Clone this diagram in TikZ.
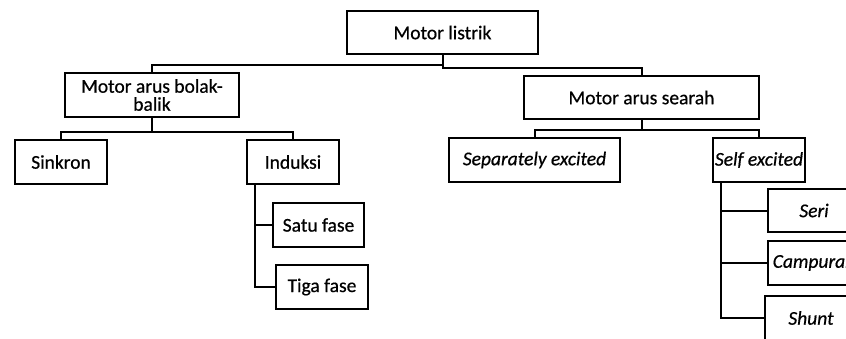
\documentclass[tikz,border=0pt]{standalone}
\usepackage{fontspec}
\setmainfont{Carlito}[FakeBold=0.6]
\begin{document}
\begin{tikzpicture}[x=1bp,y=-1bp,
  every node/.style={font=\fontsize{19.5bp}{18bp}\selectfont},
  box/.style={draw, line width=2bp, inner sep=0pt, align=center},
  link/.style={line width=2bp}]
\useasboundingbox (0,0) rectangle (846,338);
\clip (0,0) rectangle (846,338);

% root
\node[box, minimum width=191bp, minimum height=43bp] (top) at (442.5,32.5) {Motor listrik};

% second level
\node[box, minimum width=174bp, minimum height=44bp] (ac) at (152,95) {Motor arus bolak-\\balik};
\node[box, minimum width=235bp, minimum height=43bp] (dc) at (641.5,97.5) {Motor arus searah};

% AC branch
\node[box, minimum width=92bp, minimum height=44bp] (sinkron) at (61,162) {Sinkron};
\node[box, minimum width=92bp, minimum height=44bp] (induksi) at (293,162) {Induksi};
\node[box, minimum width=91bp, minimum height=44bp] (satu) at (318.5,225) {Satu fase};
\node[box, minimum width=92bp, minimum height=44bp] (tiga) at (322,287) {Tiga fase};

% DC branch
\node[box, minimum width=171bp, minimum height=44bp] (sep) at (534.5,160) {\textit{Separately excited}};
\node[box, minimum width=92bp, minimum height=44bp] (self) at (759,160) {\textit{Self excited}};
\node[box, minimum width=92bp, minimum height=43bp] (seri) at (814,210.5) {\textit{Seri}};
\node[box, minimum width=92bp, minimum height=44bp] (campuran) at (814,263) {\textit{Campuran}};
\node[box, minimum width=92bp, minimum height=44bp] (shunt) at (811,318) {\textit{Shunt}};

% connectors
\draw[link] (top.south) -- ++(0,13) -| (dc.north);
\draw[link] (top.south) -- ++(0,10) -| (ac.north);

\draw[link] (ac.south) -- ++(0,14) -| (sinkron.north);
\draw[link] (ac.south) -- ++(0,14) -| (induksi.north);
\draw[link] ([xshift=9bp]induksi.south west) |- (satu.west);
\draw[link] ([xshift=9bp]induksi.south west) |- (tiga.west);

\draw[link] (dc.south) -- ++(0,10) -| (sep.north);
\draw[link] (dc.south) -- ++(0,10) -| (self.north);
\draw[link] ([xshift=9bp]self.south west) |- (seri.west);
\draw[link] ([xshift=9bp]self.south west) |- (campuran.west);
\draw[link] ([xshift=9bp]self.south west) |- (shunt.west);
\end{tikzpicture}
\end{document}
